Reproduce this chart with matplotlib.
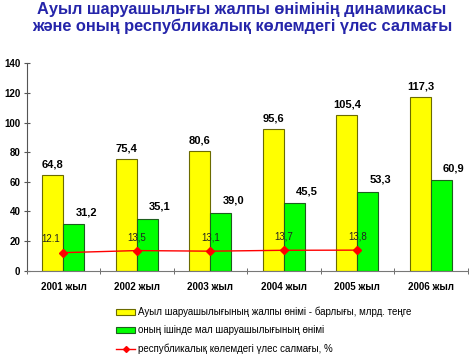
import numpy as np
import matplotlib
matplotlib.use('Agg')
import matplotlib.pyplot as plt
from matplotlib.lines import Line2D
from matplotlib.patches import Patch

plt.rcParams['font.family'] = ['Liberation Sans', 'DejaVu Sans']

years = ['2001 жыл', '2002 жыл', '2003 жыл', '2004 жыл', '2005 жыл', '2006 жыл']
total_output = [64.8, 75.4, 80.6, 95.6, 105.4, 117.3]
livestock_output = [31.2, 35.1, 39.0, 45.5, 53.3, 60.9]
share_pct = [12.1, 13.5, 13.1, 13.7, 13.8]
share_labels = ['12.1', '13,5', '13,1', '13,7', '13,8']

title = 'Ауыл шаруашылығы жалпы өнімінің динамикасы\nжәне оның республикалық көлемдегі үлес салмағы'
legend_labels = ['Ауыл шаруашылығының жалпы өнімі - барлығы, млрд. теңге',
                 'оның ішінде мал шаруашылығының өнімі',
                 'республикалық көлемдегі үлес салмағы, %']

fig = plt.figure(figsize=(4.69, 3.56), dpi=100)
ax = fig.add_axes([0.057, 0.24, 0.94, 0.582])

x = np.arange(len(years))
w = 0.286
ax.bar(x - w / 2, total_output, w, color='#FFFF00', edgecolor='#6B6B00', linewidth=0.8, zorder=2)
ax.bar(x + w / 2, livestock_output, w, color='#00FF00', edgecolor='#1E5E1E', linewidth=0.8, zorder=2)

xs = x[:len(share_pct)]
ax.plot(xs, share_pct, color='#FF0000', marker='D', markersize=4, linewidth=1.0, zorder=3)

for i, v in enumerate(total_output):
    ax.annotate(f'{v:.1f}'.replace('.', ','), (x[i] - w / 2, v), xytext=(0, 4),
                textcoords='offset points', ha='center', va='bottom',
                fontsize=8, fontweight='bold')
for i, v in enumerate(livestock_output):
    ax.annotate(f'{v:.1f}'.replace('.', ','), (x[i] + w / 2, v), xytext=(9, 5),
                textcoords='offset points', ha='center', va='bottom',
                fontsize=8, fontweight='bold')
for i, v in enumerate(share_pct):
    dx = -9 if i == 0 else 0
    ax.annotate(share_labels[i], (xs[i], v), xytext=(dx, 6),
                textcoords='offset points', ha='center', va='bottom',
                fontsize=7, color='#222222', zorder=4)

ax.set_xlim(-0.5, len(years) - 0.5)
ax.set_ylim(0, 140)
ax.set_yticks(range(0, 141, 20))
ax.set_yticklabels([str(t) for t in range(0, 141, 20)], fontsize=7, fontweight='bold')
ax.set_xticks(x)
ax.set_xticklabels(years, fontsize=7, fontweight='bold')
ax.tick_params(axis='x', length=0, pad=8)
ax.set_xticks(np.arange(-0.5, len(years), 1), minor=True)
ax.tick_params(axis='x', which='minor', length=4, direction='inout', color='#555555')
ax.tick_params(axis='y', length=5, direction='inout', color='#555555', pad=2)

for s in ['top', 'right']:
    ax.spines[s].set_visible(False)
ax.spines['left'].set_color('#555555')
ax.spines['bottom'].set_color('#777777')

fig.text(0.516, 0.993, title, ha='center', va='top', fontsize=11.8,
         fontweight='bold', color='#2525AA', linespacing=1.1)

handles = [Patch(facecolor='#FFFF00', edgecolor='#6B6B00', linewidth=0.8),
           Patch(facecolor='#00FF00', edgecolor='#1E5E1E', linewidth=0.8),
           Line2D([0], [0], color='#FF0000', marker='D', markersize=3, linewidth=1.0)]
fig.legend(handles, legend_labels, loc='upper left', bbox_to_anchor=(0.238, 0.152),
           frameon=False, fontsize=7, handlelength=1.9, handleheight=0.6,
           handletextpad=0.3, labelspacing=0.85, borderpad=0)

fig.savefig('out.png', dpi=100)
